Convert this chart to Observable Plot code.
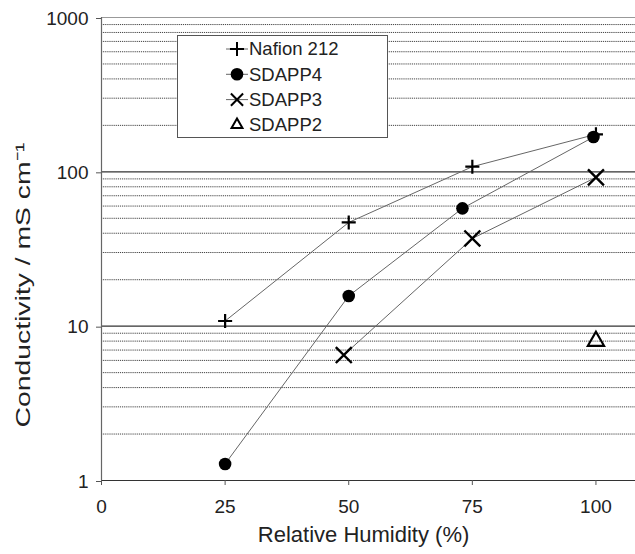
<!DOCTYPE html>
<html>
<head>
<meta charset="utf-8">
<script src="https://cdn.jsdelivr.net/npm/d3@7"></script>
<script src="https://cdn.jsdelivr.net/npm/@observablehq/plot@0.6"></script>
<style>
  body { margin: 0; background: #fff; font-family: "Liberation Sans", Arial, sans-serif; }
  #wrap { position: relative; width: 635px; height: 554px; }
  #legend { position: absolute; left: 177px; top: 35px; width: 209px; height: 101px;
            border: 1px solid #555; background: #fff; }
  #legend svg { position: absolute; left: 0; top: 0; }
</style>
</head>
<body>
<div id="wrap"></div>
<script>
// ---- data ----
const seriesNames = ["Nafion 212", "SDAPP4", "SDAPP3", "SDAPP2"];
const nafionRH = [25, 50, 75, 100];
const nafionCond = [10.8, 47, 108, 175];
const sdapp4RH = [25, 50, 73, 99.5];
const sdapp4Cond = [1.28, 15.7, 58, 168];
const sdapp3RH = [49, 75, 100];
const sdapp3Cond = [6.5, 37, 92];
const sdapp2RH = [100];
const sdapp2Cond = [8.0];
const xTicks = [0, 25, 50, 75, 100];
const yTicks = [1, 10, 100, 1000];
const xLabel = "Relative Humidity (%)";
const yLabel = "Conductivity / mS cm\u207B\u00B9";

const toRows = (name, xs, ys) => xs.map((x, i) => ({name, rh: x, cond: ys[i]}));
const nafion = toRows(seriesNames[0], nafionRH, nafionCond);
const sdapp4 = toRows(seriesNames[1], sdapp4RH, sdapp4Cond);
const sdapp3 = toRows(seriesNames[2], sdapp3RH, sdapp3Cond);
const sdapp2 = toRows(seriesNames[3], sdapp2RH, sdapp2Cond);

const minor = [];
for (const d of [1, 10, 100]) for (let k = 2; k <= 9; k++) minor.push(d * k);

const font = "Liberation Sans, Arial, sans-serif";

const chart = Plot.plot({
  width: 635,
  height: 554,
  marginLeft: 101,
  marginRight: 0,
  marginTop: 17,
  marginBottom: 74,
  style: {fontFamily: font, fontSize: "19px", color: "#222", background: "#fff"},
  x: {domain: [0, 108]},
  y: {type: "log", domain: [1, 1000]},
  marks: [
    Plot.ruleY(minor, {stroke: "#444", strokeWidth: 1, strokeDasharray: "1.2,0.9"}),
    Plot.ruleY([10, 100], {stroke: "#333", strokeWidth: 1.2}),
    Plot.ruleY([1000], {stroke: "#999", strokeWidth: 1.2}),
    Plot.ruleY([1], {stroke: "#333", strokeWidth: 1.2}),
    Plot.ruleX([0], {stroke: "#666", strokeWidth: 1.2}),
    Plot.axisY({ticks: yTicks, tickFormat: d => String(d), tickSize: 5, tickPadding: 8,
                label: null, stroke: "#555", fontSize: 19, dy: 1}),
    Plot.axisX({ticks: xTicks, tickFormat: d => String(d), tickSize: 5, tickPadding: 14,
                label: null, stroke: "#555", fontSize: 19}),
    Plot.line(nafion, {x: "rh", y: "cond", stroke: "#666", strokeWidth: 1}),
    Plot.line(sdapp4, {x: "rh", y: "cond", stroke: "#666", strokeWidth: 1}),
    Plot.line(sdapp3, {x: "rh", y: "cond", stroke: "#666", strokeWidth: 1}),
    Plot.dot(sdapp4, {x: "rh", y: "cond", symbol: "circle", r: 6.3, fill: "#000", stroke: "none"}),
    Plot.dot(nafion, {x: "rh", y: "cond", symbol: "plus", r: 4.6, stroke: "#000", strokeWidth: 2.2}),
    Plot.dot(sdapp3, {x: "rh", y: "cond", symbol: "times", r: 7.3, stroke: "#000", strokeWidth: 2.4}),
    Plot.dot(sdapp2, {x: "rh", y: "cond", symbol: "triangle", r: 6, stroke: "#000", strokeWidth: 2.2, fill: "none"}),
    Plot.text([xLabel], {x: () => 53, frameAnchor: "bottom", dy: 61, text: d => d, fontSize: 22, fill: "#222"}),
    Plot.text([yLabel], {frameAnchor: "left", textAnchor: "middle", dx: -78, dy: 36, rotate: -90,
                         text: d => d, fontSize: 21, fill: "#222"})
  ]
});

// stretch the vertical label to the length it has in the reference
d3.select(chart).selectAll("text").filter(function () { return this.textContent === yLabel; })
  .attr("textLength", 285).attr("lengthAdjust", "spacingAndGlyphs");

const wrap = document.getElementById("wrap");
wrap.appendChild(chart);

// ---- legend ----
const legend = document.createElement("div");
legend.id = "legend";
wrap.appendChild(legend);
const lsvg = d3.select(legend).append("svg").attr("width", 209).attr("height", 101);
const symMap = {"Nafion 212": d3.symbolPlus, "SDAPP4": d3.symbolCircle, "SDAPP3": d3.symbolTimes, "SDAPP2": d3.symbolTriangle2};
const symR = {"Nafion 212": 4.6, "SDAPP4": 6.3, "SDAPP3": 5.6, "SDAPP2": 5.2};
seriesNames.forEach((name, i) => {
  const cy = 13 + i * 25.3;
  const g = lsvg.append("g");
  if (name !== "SDAPP2") {
    g.append("line").attr("x1", 48).attr("x2", 70).attr("y1", cy).attr("y2", cy)
      .attr("stroke", "#666").attr("stroke-width", 1);
  }
  const r = symR[name];
  const path = d3.symbol(symMap[name], r * r * Math.PI)();
  const p = g.append("path").attr("d", path).attr("transform", `translate(59,${cy})`);
  if (name === "SDAPP4") p.attr("fill", "#000");
  else p.attr("fill", "none").attr("stroke", "#000").attr("stroke-width", 2);
  g.append("text").attr("x", 71).attr("y", cy).attr("dy", "0.35em")
    .attr("font-family", font).attr("font-size", 18.5).attr("fill", "#222").text(name);
});
</script>
</body>
</html>
